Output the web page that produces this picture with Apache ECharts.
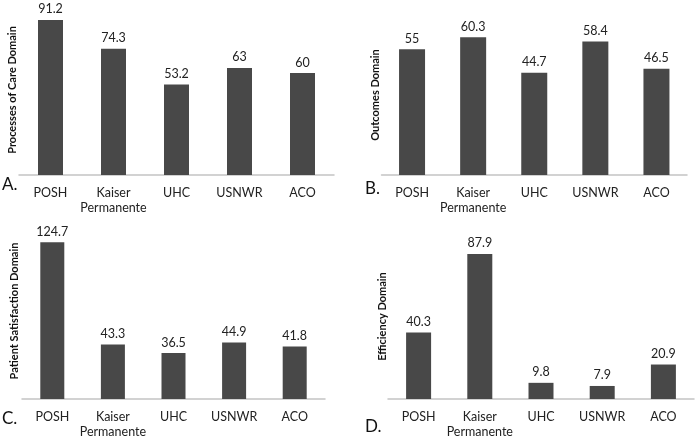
<!DOCTYPE html>
<html>
<head>
<meta charset="utf-8">
<script src="https://cdn.jsdelivr.net/npm/echarts@6/dist/echarts.min.js"></script>
<style>
html,body{margin:0;padding:0;background:#fff;}
#c{width:700px;height:439px;}
</style>
</head>
<body>
<div id="c"></div>
<script>
const categories = ['POSH', 'Kaiser\nPermanente', 'UHC', 'USNWR', 'ACO'];
const processesOfCare = [91.2, 74.3, 53.2, 63, 60];
const outcomes = [55, 60.3, 44.7, 58.4, 46.5];
const patientSatisfaction = [124.7, 43.3, 36.5, 44.9, 41.8];
const efficiency = [40.3, 87.9, 9.8, 7.9, 20.9];
const axisNames = ['Processes of Care Domain', 'Outcomes Domain', 'Patient Satisfaction Domain', 'Efficiency Domain'];
const panelLetters = ['A.', 'B.', 'C.', 'D.'];

const FONT = 'Lato';
const panels = [
  {data: processesOfCare, grid: {left: 19, top: 5, width: 315, height: 170}, max: 100, gap: 1, barWidth: 25},
  {data: outcomes, grid: {left: 381.5, top: 15, width: 305.5, height: 160}, max: 70, gap: 1, barWidth: 26},
  {data: patientSatisfaction, grid: {left: 22, top: 223, width: 303, height: 180}, max: 140, gap: 2, barWidth: 24},
  {data: efficiency, grid: {left: 388, top: 234, width: 306, height: 166}, max: 100, gap: 0, barWidth: 25}
];

const option = {
  backgroundColor: '#fff',
  animation: false,
  grid: panels.map(p => Object.assign({containLabel: false}, p.grid)),
  xAxis: panels.map((p, i) => ({
    type: 'category', gridIndex: i, data: categories,
    axisLine: {lineStyle: {color: '#c4c4c4', width: 1.5}},
    axisTick: {show: false},
    axisLabel: {color: '#222', fontFamily: FONT, fontSize: 12.5, lineHeight: 15, margin: 10, interval: 0}
  })),
  yAxis: panels.map((p, i) => ({
    type: 'value', gridIndex: i, min: 0, max: p.max,
    name: axisNames[i], nameLocation: 'middle', nameGap: p.gap,
    nameTextStyle: {fontFamily: FONT, fontWeight: 'bold', fontSize: 11, color: '#111'},
    axisLine: {show: false}, axisTick: {show: false}, axisLabel: {show: false}, splitLine: {show: false}
  })),
  series: panels.map((p, i) => ({
    type: 'bar', xAxisIndex: i, yAxisIndex: i, data: p.data, barWidth: p.barWidth,
    itemStyle: {color: '#484848'},
    label: {show: true, position: 'top', distance: 4, color: '#222', fontFamily: FONT, fontSize: 12.5}
  })),
  graphic: [
    {type: 'text', left: 2, top: 176, style: {text: panelLetters[0], font: '17px ' + FONT, fill: '#111'}},
    {type: 'text', left: 365, top: 180, style: {text: panelLetters[1], font: '17px ' + FONT, fill: '#111'}},
    {type: 'text', left: 2, top: 410, style: {text: panelLetters[2], font: '17px ' + FONT, fill: '#111'}},
    {type: 'text', left: 365, top: 418, style: {text: panelLetters[3], font: '17px ' + FONT, fill: '#111'}}
  ]
};
const chart = echarts.init(document.getElementById('c'), null, {renderer: 'canvas'});
chart.setOption(option);
</script>
</body>
</html>
